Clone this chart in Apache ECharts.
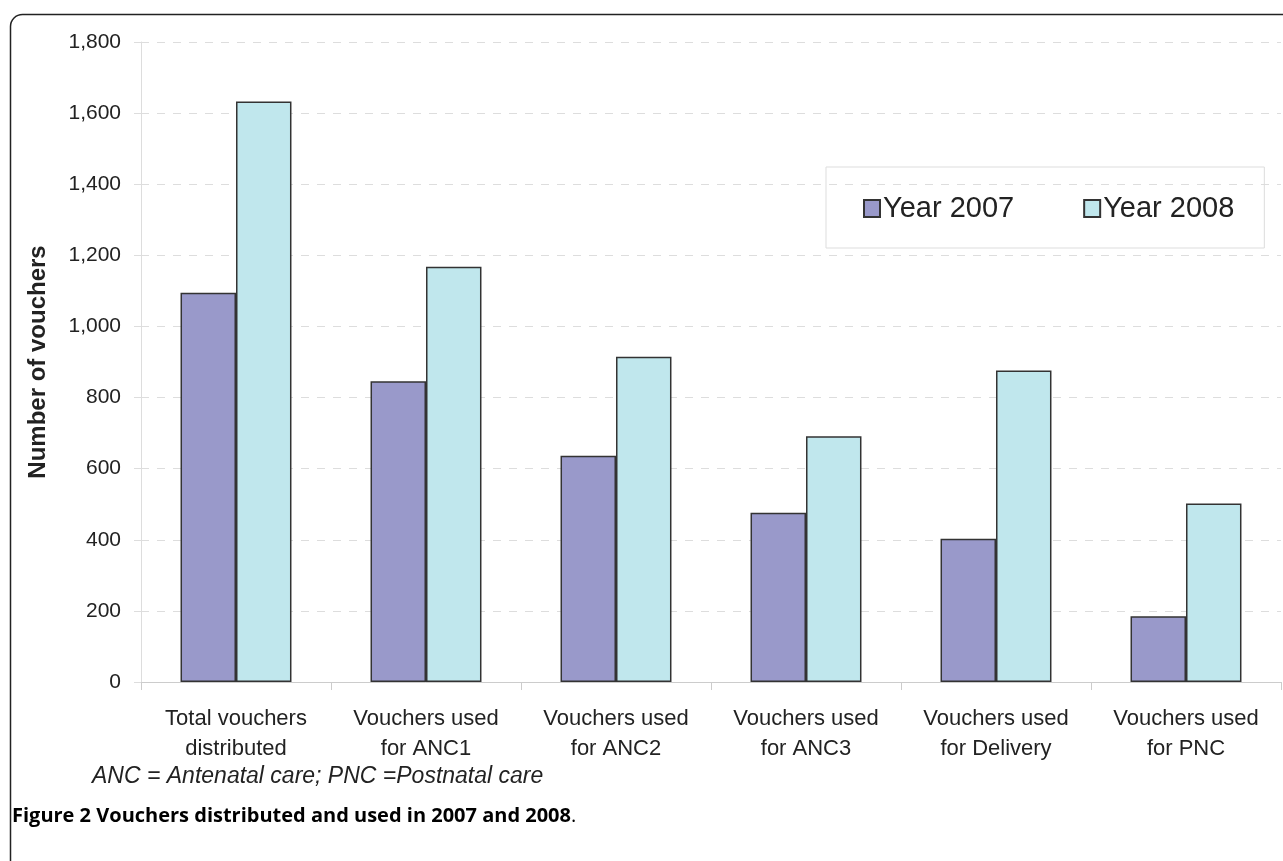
<!DOCTYPE html>
<html>
<head>
<meta charset="utf-8">
<script src="https://cdn.jsdelivr.net/npm/echarts@6/dist/echarts.min.js"></script>
<style>
html,body{margin:0;padding:0;background:#fff;}
#chart{width:1283px;height:861px;}
</style>
</head>
<body>
<div id="chart"></div>
<script>
var categories = ['Total vouchers\ndistributed', 'Vouchers used\nfor ANC1', 'Vouchers used\nfor ANC2', 'Vouchers used\nfor ANC3', 'Vouchers used\nfor Delivery', 'Vouchers used\nfor PNC'];
var year2007 = [1095, 846, 636, 476, 403, 185];
var year2008 = [1633, 1168, 915, 691, 876, 502];
var yTicks = [0, 200, 400, 600, 800, 1000, 1200, 1400, 1600, 1800];

var chart = echarts.init(document.getElementById('chart'));
var font = '"Liberation Sans", Arial, sans-serif';
chart.setOption({
  animation: false,
  backgroundColor: '#fff',
  grid: { left: 141, right: 2, top: 42, bottom: 179, containLabel: false },
  legend: {
    left: 826, top: 167,
    padding: [27, 30, 25, 37],
    borderColor: '#dddddd', borderWidth: 1,
    itemWidth: 16, itemHeight: 17, itemGap: 69,
    icon: 'rect',
    textStyle: { fontFamily: font, fontSize: 29, lineHeight: 29, color: '#222', padding: [0, 0, 0, -2] },
    data: ['Year 2007', 'Year 2008']
  },
  xAxis: {
    type: 'category',
    data: categories,
    axisLine: { lineStyle: { color: '#cccccc', width: 1 } },
    axisTick: { show: true, length: 8, lineStyle: { color: '#cccccc' } },
    axisLabel: { fontFamily: font, fontSize: 22, color: '#222', lineHeight: 30, margin: 22 }
  },
  yAxis: {
    type: 'value',
    min: 0, max: 1800, interval: 200,
    name: 'Number of vouchers',
    nameLocation: 'middle',
    nameGap: 91,
    nameTextStyle: { fontFamily: font, fontSize: 24, fontWeight: 'bold', color: '#222' },
    axisLine: { show: true, lineStyle: { color: '#dddddd' } },
    axisTick: { show: true, length: 7, lineStyle: { color: '#dddddd' } },
    axisLabel: {
      fontFamily: font, fontSize: 21, color: '#222', margin: 20,
      formatter: function (v) { return yTicks.indexOf(v) >= 0 ? v.toLocaleString('en-US') : ''; }
    },
    splitLine: { lineStyle: { color: '#dddddd', type: [8, 8] } }
  },
  series: [
    {
      name: 'Year 2007', type: 'bar', data: year2007,
      barGap: '0%', barCategoryGap: '41.6%',
      itemStyle: { color: '#9999ca', borderColor: '#333', borderWidth: 1.5 }
    },
    {
      name: 'Year 2008', type: 'bar', data: year2008,
      itemStyle: { color: '#c0e7ed', borderColor: '#333', borderWidth: 1.5 }
    }
  ],
  graphic: [
    {
      type: 'rect', silent: true, z: -1,
      shape: { x: 10.5, y: 14.5, width: 1300, height: 900, r: [12, 0, 0, 0] },
      style: { fill: 'none', stroke: '#222', lineWidth: 1.5 }
    },
    {
      type: 'text', left: 92, top: 765,
      style: { text: 'ANC = Antenatal care; PNC =Postnatal care', fontFamily: font, fontSize: 23, fontStyle: 'italic', fill: '#222' }
    },
    {
      type: 'text', left: 12, top: 806,
      style: {
        rich: { b: { fontFamily: '"Open Sans", sans-serif', fontSize: 20, fontWeight: 'bold', fill: '#000' },
                n: { fontFamily: '"Open Sans", sans-serif', fontSize: 20, fill: '#000' } },
        text: '{b|Figure 2 Vouchers distributed and used in 2007 and 2008}{n|.}'
      }
    }
  ]
});
</script>
</body>
</html>
